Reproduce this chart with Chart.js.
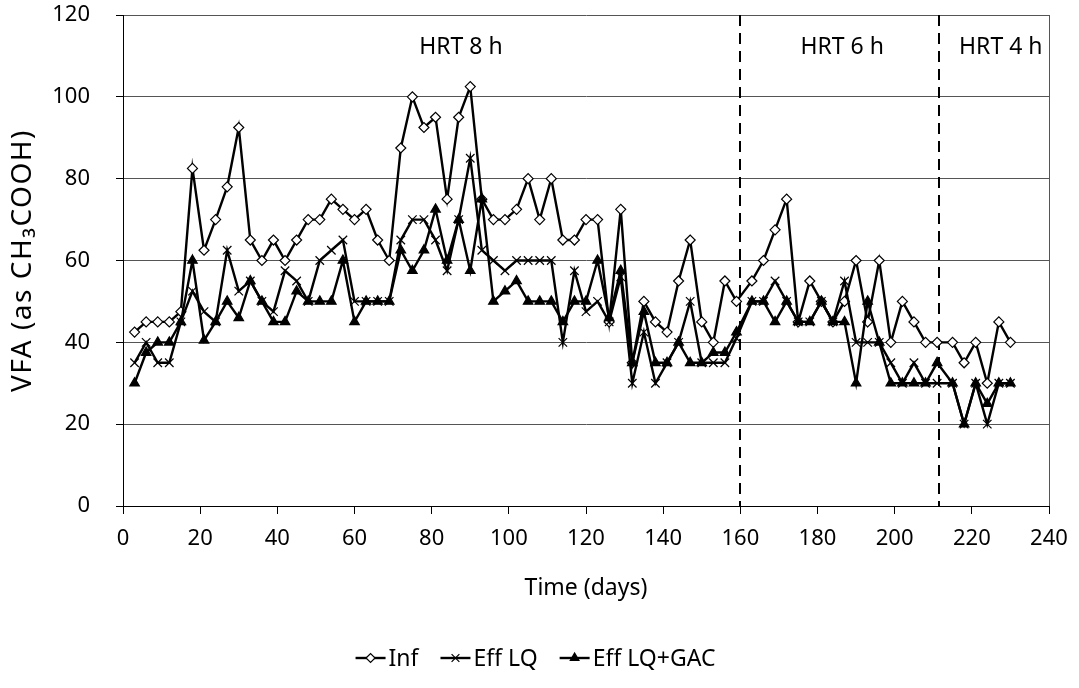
<!DOCTYPE html>
<html lang="en">
  <head>
    <meta charset="UTF-8" />
    <title>VFA</title>
    <script src="https://cdn.jsdelivr.net/npm/chart.js"></script>
    <style>
      html, body { margin: 0; padding: 0; background: #fff; }
    </style>
  </head>
  <body>
    <canvas id="vfaChart" width="1079" height="688"></canvas>

    <script>
      // sampling days
      const days = [
        3, 6, 9, 12, 15, 18, 21, 24, 27, 30, 33, 36, 39, 42, 45, 48, 51, 54, 57, 60,
        63, 66, 69, 72, 75, 78, 81, 84, 87, 90, 93, 96, 99, 102, 105, 108, 111, 114, 117, 120,
        123, 126, 129, 132, 135, 138, 141, 144, 147, 150, 153, 156, 159,
        163, 166, 169, 172, 175, 178, 181, 184, 187, 190, 193, 196, 199, 202, 205, 208, 211,
        215, 218, 221, 224, 227, 230
      ];
      const inf = [
        42.5, 45, 45, 45, 47.5, 82.5, 62.5, 70, 78, 92.5, 65, 60, 65, 60, 65, 70, 70, 75, 72.5, 70,
        72.5, 65, 60, 87.5, 100, 92.5, 95, 75, 95, 102.5, 75, 70, 70, 72.5, 80, 70, 80, 65, 65, 70,
        70, 45, 72.5, 35, 50, 45, 42.5, 55, 65, 45, 40, 55, 50,
        55, 60, 67.5, 75, 45, 55, 50, 45, 50, 60, 45, 60, 40, 50, 45, 40, 40,
        40, 35, 40, 30, 45, 40
      ];
      const effLQ = [
        35, 40, 35, 35, 45, 52.5, 47.5, 45, 62.5, 52.5, 55, 50, 47.5, 57.5, 55, 50, 60, 62.5, 65, 50,
        50, 50, 50, 65, 70, 70, 65, 57.5, 70, 85, 62.5, 60, 57.5, 60, 60, 60, 60, 40, 57.5, 47.5,
        50, 45, 56, 30, 42.5, 30, 35, 40, 50, 35, 35, 35, 41,
        50, 50, 55, 50, 45, 45, 50, 45, 55, 40, 40, 40, 35, 30, 35, 30, 30,
        30, 20, 30, 20, 30, 30
      ];
      const effLQGAC = [
        30, 37.5, 40, 40, 45, 60, 40.5, 45, 50, 46, 55, 50, 45, 45, 52.5, 50, 50, 50, 60, 45,
        50, 50, 50, 62.5, 57.5, 62.5, 72.5, 60, 70, 57.5, 75, 50, 52.5, 55, 50, 50, 50, 45, 50, 50,
        60, 46, 57.5, 35, 47.5, 35, 35, 40, 35, 35, 37.5, 37.5, 42.5,
        50, 50, 45, 50, 45, 45, 50, 45, 45, 30, 50, 40, 30, 30, 30, 30, 35,
        30, 20, 30, 25, 30, 30
      ];
      const seriesNames = ["Inf", "Eff LQ", "Eff LQ+GAC"];
      const xTicks = [0, 20, 40, 60, 80, 100, 120, 140, 160, 180, 200, 220, 240];
      const yTicks = [0, 20, 40, 60, 80, 100, 120];
      const hrtBounds = [160, 211.5];
      const hrtLabels = ["HRT 8 h", "HRT 6 h", "HRT 4 h"];
      const yTitle = "VFA (as CH\u2083COOH)";

      const FONT = "'Noto Sans', sans-serif";
      const GRID = "#555";

      const toPoints = (vals) => days.map((d, i) => ({ x: d, y: vals[i] }));

      const styles = [
        { pointStyle: "rectRot", radius: 5, fill: "#fff" },
        { pointStyle: "crossRot", radius: 6, fill: "#000" },
        { pointStyle: "triangle", radius: 5.5, fill: "#000" },
      ];

      const datasets = [inf, effLQ, effLQGAC].map((vals, i) => ({
        label: seriesNames[i],
        data: toPoints(vals),
        borderColor: "#000",
        borderWidth: 2.4,
        pointStyle: styles[i].pointStyle,
        pointRadius: styles[i].radius,
        pointBackgroundColor: styles[i].fill,
        pointBorderColor: "#000",
        pointBorderWidth: 1.2,
        tension: 0,
        order: 3 - i,
      }));

      // dashed HRT boundaries, labels, y title, right border and legend
      const extras = {
        id: "extras",
        beforeDatasetsDraw(chart) {
          const { ctx, chartArea, scales } = chart;
          ctx.save();
          ctx.strokeStyle = "#000";
          ctx.lineWidth = 2;
          ctx.setLineDash([11, 7]);
          hrtBounds.forEach((b) => {
            const x = Math.round(scales.x.getPixelForValue(b));
            ctx.beginPath();
            ctx.moveTo(x, chartArea.top);
            ctx.lineTo(x, chartArea.bottom);
            ctx.stroke();
          });
          ctx.restore();

          ctx.save();
          ctx.strokeStyle = GRID;
          ctx.lineWidth = 1;
          ctx.beginPath();
          ctx.moveTo(chartArea.right + 0.5, chartArea.top);
          ctx.lineTo(chartArea.right + 0.5, chartArea.bottom);
          ctx.stroke();
          ctx.restore();
        },
        afterDraw(chart) {
          const { ctx, scales, chartArea } = chart;
          const labelX = [87.6, 186.4, 227.5];
          ctx.save();
          ctx.fillStyle = "#000";
          ctx.font = "23px " + FONT;
          ctx.textAlign = "center";
          ctx.textBaseline = "middle";
          hrtLabels.forEach((t, i) => {
            ctx.fillText(t, scales.x.getPixelForValue(labelX[i]), scales.y.getPixelForValue(112));
          });
          ctx.restore();

          // y axis title
          ctx.save();
          ctx.translate(23, (chartArea.top + chartArea.bottom) / 2);
          ctx.rotate(-Math.PI / 2);
          ctx.fillStyle = "#000";
          ctx.font = "28px " + FONT;
          if ("letterSpacing" in ctx) ctx.letterSpacing = "1.5px";
          ctx.textAlign = "center";
          ctx.textBaseline = "middle";
          ctx.fillText(yTitle, 0, 0);
          ctx.restore();

          // legend
          ctx.save();
          ctx.font = "23px " + FONT;
          ctx.textBaseline = "middle";
          const lineLen = 30, gapTxt = 3, gapItem = 22;
          const widths = seriesNames.map((n) => lineLen + gapTxt + ctx.measureText(n).width);
          const total = widths.reduce((a, b) => a + b, 0) + gapItem * (seriesNames.length - 1);
          let x = 535.5 - total / 2;
          const y = 658;
          seriesNames.forEach((n, i) => {
            ctx.strokeStyle = "#000";
            ctx.lineWidth = 2.4;
            ctx.beginPath();
            ctx.moveTo(x, y);
            ctx.lineTo(x + lineLen, y);
            ctx.stroke();
            ctx.fillStyle = styles[i].fill;
            ctx.lineWidth = 1.2;
            Chart.helpers.drawPoint(ctx, {
              pointStyle: styles[i].pointStyle,
              radius: styles[i].radius - 0.5,
              borderWidth: 1.2,
              rotation: 0,
            }, x + lineLen / 2, y);
            ctx.fillStyle = "#000";
            ctx.textAlign = "left";
            ctx.fillText(n, x + lineLen + gapTxt, y + 1);
            x += widths[i] + gapItem;
          });
          ctx.restore();
        },
      };

      new Chart(document.getElementById("vfaChart"), {
        type: "line",
        data: { datasets },
        plugins: [extras],
        options: {
          responsive: false,
          animation: false,
          layout: { padding: { left: 0, right: 30, top: 15, bottom: 0 } },
          plugins: {
            legend: { display: false },
            tooltip: { enabled: false },
          },
          scales: {
            x: {
              type: "linear",
              min: xTicks[0],
              max: xTicks[xTicks.length - 1],
              afterBuildTicks: (s) => { s.ticks = xTicks.map((v) => ({ value: v })); },
              afterFit: (s) => {
                s.height = 182;
                s.paddingLeft = 0;
                s.paddingRight = 0;
              },
              grid: { drawOnChartArea: false, tickLength: 8, tickColor: "#000" },
              border: { color: "#000", width: 1 },
              ticks: { color: "#000", font: { family: FONT, size: 22 }, padding: 12, maxRotation: 0 },
              title: {
                display: true,
                text: "Time (days)",
                color: "#000",
                font: { family: FONT, size: 23 },
                padding: { top: 0, bottom: 86 },
              },
            },
            y: {
              min: yTicks[0],
              max: yTicks[yTicks.length - 1],
              afterBuildTicks: (s) => { s.ticks = yTicks.map((v) => ({ value: v })); },
              afterFit: (s) => {
                s.width = 123;
                s.paddingTop = 0;
                s.paddingBottom = 0;
              },
              grid: { color: GRID, tickLength: 7, tickColor: "#000" },
              border: { color: "#000", width: 1 },
              ticks: { color: "#000", font: { family: FONT, size: 22 }, padding: 26 },
              title: { display: false },
            },
          },
        },
      });
    </script>
  </body>
</html>
